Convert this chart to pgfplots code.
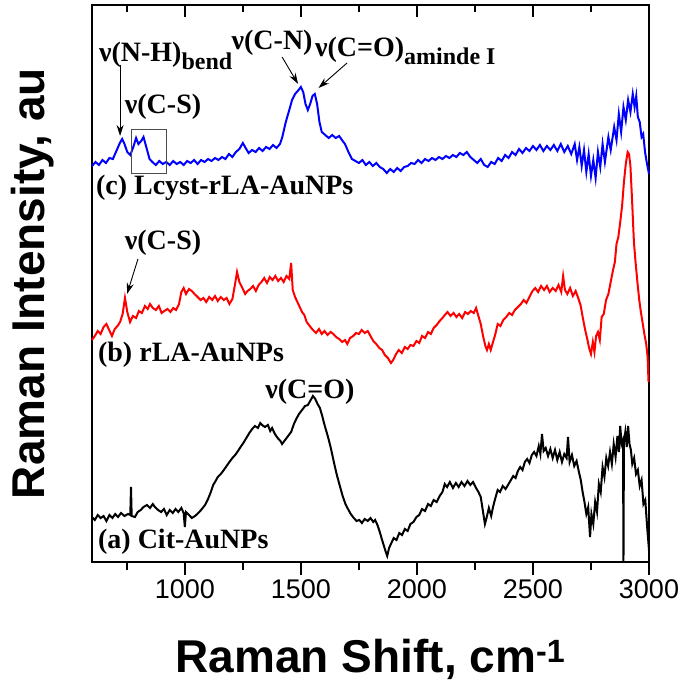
\documentclass[border=0pt]{standalone}
\usepackage{fontspec}
\setmainfont{Liberation Serif}
\setsansfont{Liberation Sans}
\usepackage{pgfplots}
\pgfplotsset{compat=1.18}
\usetikzlibrary{arrows.meta}
\tikzset{
  ann/.style={font=\bfseries\fontsize{28}{28}\selectfont, inner sep=0pt},
  arr/.style={-{Stealth[length=11pt,width=7pt]}, line width=0.9pt},
}
\begin{document}
\begin{tikzpicture}
\path[use as bounding box] (-92pt,-124pt) rectangle (593pt,562pt);
\begin{axis}[
  at={(0pt,0pt)}, anchor=south west,
  width=557pt, height=557pt, scale only axis,
  xmin=600, xmax=3000, ymin=0, ymax=557,
  clip=false,
  line width=2pt,
  xtick={1000,1500,2000,2500,3000},
  minor xtick={750,1250,1750,2250,2750},
  ytick=\empty,
  xtick pos=left,
  xtick align=outside,
  major tick length=13pt, minor tick length=8pt,
  xtick style={draw=black, line width=2pt},
  xticklabel style={font=\sffamily\fontsize{27}{27}\selectfont},
  /pgf/number format/assume math mode=true,
  /pgf/number format/1000 sep={},
  xlabel={\sffamily\bfseries\fontsize{46}{46}\selectfont Raman Shift, cm\textsuperscript{-1}},
  xlabel style={at={(axis description cs:0.5,-0.1975)}, anchor=base},
  ylabel={\sffamily\bfseries\fontsize{46}{46}\selectfont Raman Intensity, au},
  ylabel style={at={(axis description cs:-0.0844,0.5)}, anchor=base},
]
% (c) Lcyst-rLA-AuNPs
\addplot[blue, line width=2pt] table {
600 396
615 400
630 397
645 402
660 399
675 404
690 403
705 411
720 419
730 423
740 418
752 410
765 407
778 415
790 424
800 418
812 421
822 425
835 414
848 403
860 400
875 397
890 401
905 398
920 400
935 397
950 401
965 398
980 400
995 397
1010 401
1025 399
1040 402
1055 398
1070 402
1085 400
1100 403
1115 401
1130 404
1145 402
1160 405
1175 403
1190 408
1205 405
1220 410
1235 413
1250 419
1262 414
1275 409
1290 412
1305 410
1320 414
1335 411
1350 415
1365 413
1380 417
1395 414
1410 418
1420 425
1435 440
1450 452
1462 462
1475 468
1490 472
1500 475
1510 470
1520 458
1530 452
1540 458
1550 466
1560 468
1570 458
1580 440
1590 430
1605 427
1620 424
1635 427
1650 424
1665 426
1680 421
1690 418
1705 410
1720 403
1735 401
1750 399
1765 402
1780 397
1795 400
1810 396
1825 399
1840 395
1855 393
1870 389
1885 393
1900 390
1915 394
1930 391
1945 395
1960 396
1975 399
1990 398
2005 402
2020 399
2035 403
2050 401
2065 404
2080 402
2095 405
2110 403
2125 406
2140 404
2155 407
2170 405
2185 409
2200 407
2215 410
2230 405
2245 402
2260 399
2275 403
2290 397
2305 395
2320 400
2335 398
2350 404
2365 401
2380 407
2395 404
2410 410
2425 407
2440 413
2455 409
2470 414
2485 411
2500 416
2515 412
2530 417
2545 411
2560 416
2575 412
2590 417
2605 411
2620 418
2635 410
2650 416
2665 408
2680 418
2690 402
2700 415
2710 396
2720 412
2730 390
2740 408
2750 386
2760 402
2770 384
2780 410
2790 395
2800 418
2810 400
2825 425
2835 412
2850 435
2860 422
2870 448
2880 430
2890 455
2900 442
2910 462
2920 450
2930 468
2938 455
2945 466
2952 445
2960 440
2968 425
2975 428
2983 410
2990 400
3000 388
};
% (b) rLA-AuNPs
\addplot[red, line width=2pt] table {
600 222
612 226
625 231
637 228
650 235
662 238
672 233
686 226
698 233
710 236
721 240
732 248
742 264
752 250
764 240
776 246
790 244
802 251
815 249
828 256
840 253
850 258
862 254
875 252
888 256
900 249
912 251
925 253
938 250
950 254
962 252
975 258
985 270
995 274
1005 268
1018 273
1030 271
1042 268
1055 265
1068 262
1080 264
1092 260
1105 265
1118 262
1130 266
1142 261
1155 265
1168 262
1180 264
1192 258
1205 263
1215 276
1225 290
1235 280
1248 274
1260 268
1270 271
1282 273
1294 276
1306 271
1318 277
1330 280
1342 284
1354 279
1366 285
1378 282
1390 286
1402 281
1414 284
1426 280
1438 286
1450 283
1458 299
1465 272
1475 265
1485 260
1495 255
1505 250
1515 247
1525 240
1538 236
1552 232
1565 229
1578 233
1590 228
1602 231
1615 227
1628 230
1640 228
1652 225
1665 223
1678 220
1690 222
1700 218
1712 224
1725 226
1738 229
1750 228
1762 232
1775 229
1788 231
1800 226
1812 221
1825 218
1838 214
1850 212
1862 207
1875 204
1888 199
1898 202
1910 208
1922 212
1935 209
1948 215
1960 213
1972 217
1985 216
1998 221
2010 219
2022 226
2035 224
2048 230
2060 228
2072 234
2085 237
2098 241
2110 244
2120 247
2132 250
2145 246
2158 249
2170 245
2182 248
2195 244
2208 250
2220 248
2232 251
2245 249
2255 254
2265 246
2275 238
2285 226
2295 216
2302 212
2310 218
2318 212
2328 220
2338 228
2348 238
2360 236
2372 242
2385 245
2398 249
2410 247
2422 252
2435 255
2448 258
2460 262
2472 259
2485 265
2498 271
2510 274
2522 270
2535 276
2548 272
2560 276
2572 270
2585 274
2598 271
2610 277
2622 270
2630 286
2638 272
2648 268
2660 274
2672 266
2684 271
2695 264
2705 257
2715 244
2725 232
2735 222
2742 214
2750 208
2758 220
2765 210
2772 226
2780 230
2788 222
2796 245
2805 248
2815 262
2825 268
2835 280
2845 292
2853 300
2860 318
2868 325
2876 340
2884 356
2892 380
2900 398
2908 410
2914 408
2920 396
2927 362
2935 320
2942 300
2950 280
2958 262
2965 250
2972 240
2980 228
2988 218
2994 205
2998 180
};
% (a) Cit-AuNPs
\addplot[black, line width=2pt] table {
600 45
612 42
625 47
637 44
650 46
662 41
675 47
688 44
700 48
712 45
725 49
740 46
755 48
765 47
768 75
771 46
785 45
797 50
810 52
822 55
837 57
850 54
862 58
871 55
885 52
898 50
910 53
922 47
935 52
948 49
960 53
972 50
985 54
995 49
1000 35
1005 50
1018 47
1030 44
1044 46
1058 49
1070 52
1087 57
1100 63
1112 70
1122 77
1130 80
1142 85
1155 88
1168 92
1180 96
1192 100
1205 104
1217 107
1229 111
1240 115
1252 119
1265 124
1278 129
1290 133
1302 136
1315 134
1325 139
1333 137
1345 135
1358 137
1368 131
1376 134
1388 128
1400 124
1412 121
1419 118
1432 122
1445 126
1458 130
1470 138
1480 143
1492 148
1505 152
1518 156
1530 157
1540 161
1552 166
1562 163
1572 158
1582 154
1592 146
1602 137
1617 125
1630 113
1643 99
1655 87
1668 76
1680 66
1692 58
1703 53
1715 48
1728 44
1740 41
1752 42
1763 39
1775 43
1788 41
1800 44
1812 40
1820 42
1830 37
1840 30
1850 22
1858 16
1866 10
1872 6
1880 14
1890 19
1900 24
1912 22
1924 29
1936 27
1948 33
1960 31
1972 38
1985 40
1998 45
2010 47
2022 53
2035 51
2048 58
2060 56
2072 62
2085 60
2098 66
2110 70
2120 78
2130 75
2142 80
2155 74
2168 79
2180 75
2192 80
2205 76
2218 81
2230 77
2242 80
2255 74
2265 70
2275 65
2285 50
2293 38
2300 44
2310 54
2320 46
2328 55
2338 64
2348 72
2358 70
2370 76
2382 73
2395 78
2405 82
2415 86
2425 84
2435 91
2445 95
2455 92
2465 100
2475 103
2485 99
2495 107
2505 110
2515 106
2525 116
2532 108
2539 128
2546 111
2555 114
2565 106
2575 113
2585 104
2595 112
2605 102
2615 110
2625 100
2635 108
2645 104
2651 125
2658 100
2668 107
2678 96
2688 101
2698 90
2706 82
2714 70
2722 60
2730 48
2738 55
2746 25
2752 48
2760 38
2768 60
2776 50
2784 78
2792 70
2800 95
2808 85
2816 104
2824 96
2832 110
2840 98
2848 118
2856 105
2864 126
2870 110
2876 136
2882 118
2888 122
2890 0
2892 120
2898 130
2904 115
2910 136
2916 118
2922 112
2928 98
2936 104
2944 88
2952 92
2960 76
2968 82
2976 58
2984 62
2992 35
3000 12
};
% tick marks (bottom outward, top inward)
\draw[black, line width=2.2pt]
  (axis cs:1000,0) -- (axis cs:1000,-13) (axis cs:1500,0) -- (axis cs:1500,-13)
  (axis cs:2000,0) -- (axis cs:2000,-13) (axis cs:2500,0) -- (axis cs:2500,-13)
  (axis cs:3000,0) -- (axis cs:3000,-13)
  (axis cs:750,0) -- (axis cs:750,-8) (axis cs:1250,0) -- (axis cs:1250,-8)
  (axis cs:1750,0) -- (axis cs:1750,-8) (axis cs:2250,0) -- (axis cs:2250,-8)
  (axis cs:2750,0) -- (axis cs:2750,-8)
  (axis cs:1000,557) -- (axis cs:1000,545) (axis cs:1500,557) -- (axis cs:1500,545)
  (axis cs:2000,557) -- (axis cs:2000,545) (axis cs:2500,557) -- (axis cs:2500,545)
  (axis cs:750,557) -- (axis cs:750,550) (axis cs:1250,557) -- (axis cs:1250,550)
  (axis cs:1750,557) -- (axis cs:1750,550) (axis cs:2250,557) -- (axis cs:2250,550)
  (axis cs:2750,557) -- (axis cs:2750,550);
% annotations
\node[ann, anchor=base west] at (axis cs:613,367) {(c) Lcyst-rLA-AuNPs};
\node[ann, anchor=base west] at (axis cs:622,201) {(b) rLA-AuNPs};
\node[ann, anchor=base west] at (axis cs:622,14) {(a) Cit-AuNPs};
\node[ann, anchor=base] at (axis cs:1539,164) {ν(C=O)};
\node[ann, anchor=base] at (axis cs:906,312) {ν(C-S)};
\draw[arr] (axis cs:798,303) -- (axis cs:751,268);
\node[ann, anchor=base west] at (axis cs:626,500) {ν(N-H)\raisebox{-8pt}{\fontsize{24}{24}\selectfont bend}};
\draw[arr] (axis cs:721,497) -- (axis cs:721,426);
\node[ann, anchor=base] at (axis cs:1376,512) {ν(C-N)};
\draw[arr] (axis cs:1419,505) -- (axis cs:1488,478);
\node[ann, anchor=base west] at (axis cs:1557,505) {ν(C=O)\raisebox{-8pt}{\fontsize{24}{24}\selectfont aminde I}};
\draw[arr] (axis cs:1699,499) -- (axis cs:1576,474);
\node[ann, anchor=base] at (axis cs:906,448) {ν(C-S)};
\draw[line width=0.8pt, black!70] (axis cs:768,389) rectangle (axis cs:919,433);
\end{axis}
\end{tikzpicture}
\end{document}
